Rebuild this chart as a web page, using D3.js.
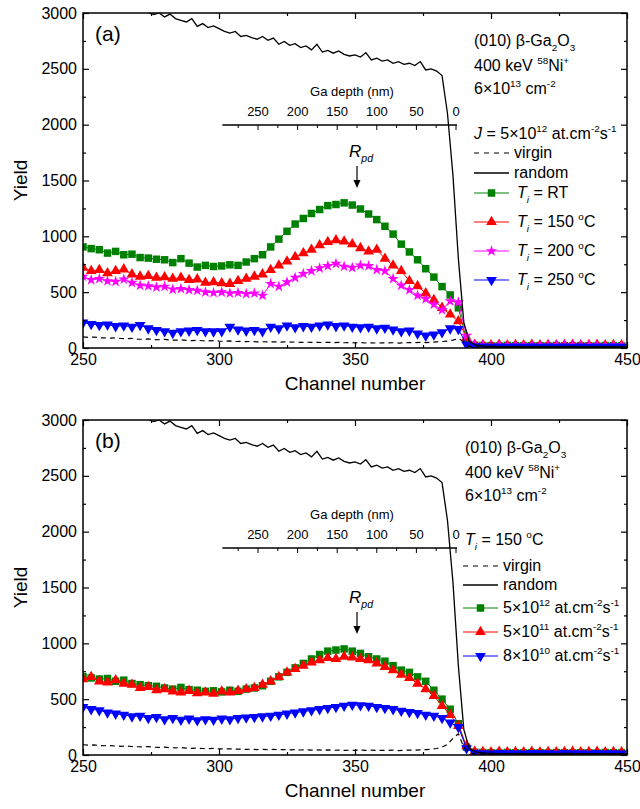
<!DOCTYPE html>
<html>
<head>
<meta charset="utf-8">
<script src="https://cdn.jsdelivr.net/npm/d3@7"></script>
<style>
body { margin: 0; background: #fff; }
svg { display: block; font-family: "Liberation Sans", Arial, sans-serif; }
</style>
</head>
<body>
<script>
// channel grid of the ion-implanted spectra (markers) and of virgin/random lines
var chan = [250,253,256,259,262,265,268,271,274,277,280,283,286,289,292,295,298,301,304,307,310,313,316,319,322,325,328,331,334,337,340,343,346,349,352,355,358,361,364,367,370,373,376,379,382,385,388,391,394,397,400,403,406,409,412,415,418,421,424,427,430,433,436,439,442,445,448];
var chanLine = [250,252,254,256,258,260,262,264,266,268,270,272,274,276,278,280,282,284,286,288,290,292,294,296,298,300,302,304,306,308,310,312,314,316,318,320,322,324,326,328,330,332,334,336,338,340,342,344,346,348,350,352,354,356,358,360,362,364,366,368,370,372,374,376,378,380,382,384,386,388,390,392,394,396,398,400,402,404,406,408,410,412,414,416,418,420,422,424,426,428,430,432,434,436,438,440,442,444,446,448,450];

// random spectrum (same in both panels)
var randomYield = [3180,3170,3155,3140,3125,3110,3095,3080,3065,3050,3035,3020,3005,2985,3000,2965,2990,2950,2935,2920,
  2950,2880,2905,2870,2885,2860,2835,2820,2835,2790,2800,2780,2765,2790,2755,2775,2720,2745,2710,2725,
  2690,2705,2670,2720,2650,2665,2640,2660,2630,2615,2625,2605,2645,2580,2595,2570,2580,2550,2565,2540,
  2550,2530,2565,2490,2500,2480,2440,2100,1550,800,230,60,30,20,16,14,
  12,13,11,12,14,12,11,13,12,12,11,13,12,14,11,12,13,12,11,12,13,12,11,12,13];
var virginA = [100,95,98,92,90,88,91,85,84,86,80,
  78,81,75,74,77,72,70,73,68,66,69,65,64,66,62,
  60,63,58,60,57,59,55,56,54,56,53,54,52,54,50,
  52,50,51,49,51,48,50,47,48,46,48,45,47,44,46,
  45,47,44,46,48,47,50,49,52,55,58,62,70,85,55,
  15,10,9,8,8,7,8,7,8,7,8,7,8,7,8,7,8,7,8,7,8,7,8,7,8,7,8,7,8,7];
var virginB = [92,88,90,85,83,84,80,78,80,76,74,
  73,75,70,68,70,66,64,66,62,60,62,58,57,59,55,
  54,56,52,53,50,52,49,50,48,50,47,48,46,48,45,
  46,44,45,43,45,42,44,41,43,42,44,41,43,40,42,
  41,43,40,42,44,43,46,48,52,58,70,95,150,190,70,
  18,10,9,8,8,7,8,7,8,7,8,7,8,7,8,7,8,7,8,7,8,7,8,7,8,7,8,7,8,7];

// panel (a): J = 5e12, different implantation temperatures
var rtA = [905,890,880,850,865,835,840,810,805, 795,790,765,800,760,725,740,730,735,
  745,740,770,800,835,905,975,1045,1110, 1160,1205,1240,1275,1285,1300,1280,1245,1200,
  1150,1090,1020,930,860,790,710,635,550, 475,360,70,25,
  22,20,18,23,20,19,21,20,18,22,20,19,21,20,18,22,20,19];
var t150A = [720,690,700,670,690,705,660,640,645, 630,635,620,630,610,615,585,590,580,
  575,600,620,640,660,700,740,775,815, 850,880,920,950,965,955,930,895,865,
  880,800,740,690,600,555,490,430,360, 300,240,90,30,
  28,25,30,24,27,26,30,24,28,25,27,29,25,27,30,24,28,26];
var t200A = [640,610,620,600,595,615,585,560,555, 545,550,525,530,520,515,500,495,500,
  490,495,485,490,470,575,550,590,630, 665,690,715,735,755,730,720,740,735,
  700,690,620,560,520,470,440,390,340, 420,410,110,30,
  25,22,27,24,26,23,27,25,22,26,24,27,23,25,26,22,25,24];
var t250A = [227,215,205,210,195,200,190,205,175, 160,150,135,150,155,160,150,148,150,
  190,165,155,160,150,190,175,200,185, 195,190,200,210,195,200,190,185,190,
  175,180,165,150,155,130,110,120,140, 175,170,30,15,
  12,10,13,11,12,10,13,11,12,10,13,11,12,10,13,11,12,10];

// panel (b): Ti = 150 C, different fluxes
var f12B = [700,690,680,685,660,670,640,630,620, 615,600,590,605,585,580,570,575,565,
  580,570,590,600,620,660,700,740,780, 820,860,900,930,940,950,930,910,880,
  860,840,800,760,740,700,660,580,500, 410,280,70,25,
  22,20,18,23,20,19,21,20,18,22,20,19,21,20,18,22,20,19];
var f11B = [680,700,660,650,670,640,630,600,610, 580,590,570,560,575,555,560,550,570,
  560,575,590,600,630,660,700,740,770, 800,830,850,870,860,880,875,860,850,
  820,790,760,720,690,640,590,530,440, 360,260,80,30,
  28,25,30,24,27,26,30,24,28,25,27,29,25,27,30,24,28,26];
var f10B = [430,410,400,380,370,360,345,350,330, 340,320,330,315,325,310,320,315,325,
  320,330,335,340,345,350,360,370,380, 390,400,410,420,430,440,450,445,440,
  430,420,410,395,385,375,360,350,330, 290,250,60,20,
  15,13,16,14,15,13,16,14,15,13,16,14,15,13,16,14,15,13];

var xTicks = [250,300,350,400,450];
var xMinor = [275,325,375,425];
var yTicks = [0,500,1000,1500,2000,2500,3000];
var yMinor = [250,750,1250,1750,2250,2750];
var depthTicks = [250,200,150,100,50,0];
var depthMinor = [275,225,175,125,75,25];

var FONT = '"Liberation Sans", Arial, sans-serif';
var svg = d3.select("body").append("svg").attr("width", 640).attr("height", 809);
var x = d3.scaleLinear().domain([250, 450]).range([83, 627]);
var depth = d3.scaleLinear().domain([0, 250]).range([456, 258]);

// text with sub/superscripts: parts = [[text, kind], ...]
function rich(sel, tx, ty, parts, size) {
  var t = sel.append("text").attr("x", tx).attr("y", ty).attr("font-size", size);
  var shift = 0;
  parts.forEach(function (p) {
    var k = p[1] || "", target = 0;
    var ts = t.append("tspan").text(p[0]);
    if (k.indexOf("sup") >= 0) { target = -0.42 * size; ts.attr("font-size", size * 0.62); }
    if (k.indexOf("sub") >= 0) { target = 0.3 * size; ts.attr("font-size", size * 0.62); }
    if (k.indexOf("it") >= 0) ts.attr("font-style", "italic");
    ts.attr("dy", target - shift);
    shift = target;
  });
  return t;
}

function marker(sel, cx, cy, s) {
  sel.append("path")
    .attr("transform", "translate(" + cx + "," + cy + ")" + (s.flip ? " rotate(180)" : ""))
    .attr("d", d3.symbol().type(s.symbol).size(s.size)())
    .attr("fill", s.color);
}

function panel(p) {
  var y = d3.scaleLinear().domain([0, 3000]).range([p.bottom, p.top]);
  var g = svg.append("g");
  g.append("clipPath").attr("id", "clip" + p.name).append("rect")
    .attr("x", 83).attr("y", p.top).attr("width", 544).attr("height", p.bottom - p.top);
  var plot = g.append("g").attr("clip-path", "url(#clip" + p.name + ")");
  var line = d3.line().x(function (d) { return x(d[0]); }).y(function (d) { return y(d[1]); });

  p.series.forEach(function (s) {
    var pts = chan.map(function (c, i) { return [c, s.values[i]]; });
    plot.append("path").datum(pts).attr("fill", "none").attr("stroke", s.color).attr("stroke-width", 1).attr("d", line);
    pts.forEach(function (d) { marker(plot, x(d[0]), y(d[1]), s); });
  });
  plot.append("path").datum(chanLine.map(function (c, i) { return [c, p.virgin[i]]; }))
    .attr("fill", "none").attr("stroke", "#000").attr("stroke-width", 1.2).attr("stroke-dasharray", "5,4").attr("d", line);
  plot.append("path").datum(chanLine.map(function (c, i) { return [c, randomYield[i]]; }))
    .attr("fill", "none").attr("stroke", "#000").attr("stroke-width", 1.3).attr("d", line);

  // axes, ticks inward on all four sides
  function ax(axis, tx, ty, vals, len, labels) {
    var a = g.append("g").attr("transform", "translate(" + tx + "," + ty + ")")
      .call(axis.tickValues(vals).tickSizeInner(-len).tickSizeOuter(0).tickPadding(6)
        .tickFormat(labels ? d3.format("d") : ""));
    a.select(".domain").remove();
    a.attr("font-size", 16).attr("font-family", FONT);
    a.selectAll("text").attr("fill", "#000");
    a.selectAll("line").attr("stroke-width", 1.2);
  }
  ax(d3.axisBottom(x), 0, p.bottom, xTicks, 6, true);
  ax(d3.axisBottom(x), 0, p.bottom, xMinor, 3, false);
  ax(d3.axisTop(x), 0, p.top, xTicks, 6, false);
  ax(d3.axisTop(x), 0, p.top, xMinor, 3, false);
  ax(d3.axisLeft(y), 83, 0, yTicks, 6, true);
  ax(d3.axisLeft(y), 83, 0, yMinor, 3, false);
  ax(d3.axisRight(y), 627, 0, yTicks, 6, false);
  ax(d3.axisRight(y), 627, 0, yMinor, 3, false);
  g.append("rect").attr("x", 83).attr("y", p.top).attr("width", 544).attr("height", p.bottom - p.top)
    .attr("fill", "none").attr("stroke", "#000").attr("stroke-width", 1.5);

  g.append("text").attr("transform", "translate(27," + (p.top + p.bottom) / 2 + ") rotate(-90)")
    .attr("text-anchor", "middle").attr("font-size", 19).text("Yield");
  g.append("text").attr("x", 355).attr("y", p.bottom + 42).attr("text-anchor", "middle")
    .attr("font-size", 19).text("Channel number");
  g.append("text").attr("x", 95).attr("y", p.top + 28).attr("font-size", 21).text(p.label);

  // Ga depth axis
  var iy = p.insetY;
  var dg = g.append("g");
  dg.append("line").attr("x1", depth(295)).attr("x2", depth(0) + 1).attr("y1", iy).attr("y2", iy)
    .attr("stroke", "#000").attr("stroke-width", 1.3);
  dg.selectAll(".maj").data(depthTicks).enter().append("line")
    .attr("x1", function (d) { return depth(d); }).attr("x2", function (d) { return depth(d); })
    .attr("y1", iy).attr("y2", iy + 5).attr("stroke", "#000");
  dg.selectAll(".min").data(depthMinor).enter().append("line")
    .attr("x1", function (d) { return depth(d); }).attr("x2", function (d) { return depth(d); })
    .attr("y1", iy).attr("y2", iy + 3).attr("stroke", "#000");
  dg.selectAll(".lab").data(depthTicks).enter().append("text")
    .attr("x", function (d) { return depth(d); }).attr("y", iy - 9).attr("text-anchor", "middle")
    .attr("font-size", 13).text(function (d) { return d; });
  dg.append("text").attr("x", 352).attr("y", iy - 29).attr("text-anchor", "middle")
    .attr("font-size", 13).text("Ga depth (nm)");

  // projected range marker
  var r = p.rpd;
  rich(g, r.x - 8, r.ty, [["R", "it"], ["pd", "itsub"]], 17);
  g.append("line").attr("x1", r.x).attr("x2", r.x).attr("y1", r.y1).attr("y2", r.y2 - 6)
    .attr("stroke", "#000").attr("stroke-width", 1.2);
  g.append("path").attr("d", "M" + (r.x - 3.5) + "," + (r.y2 - 8) + "L" + (r.x + 3.5) + "," + (r.y2 - 8) + "L" + r.x + "," + r.y2 + "Z");

  // legend
  var L = p.legend;
  L.head.forEach(function (h, i) { rich(g, L.hx, L.hy[i], h, 16); });
  var lx1 = L.lx, lx2 = L.lx + L.lw;
  g.append("line").attr("x1", lx1).attr("x2", lx2).attr("y1", L.vy).attr("y2", L.vy)
    .attr("stroke", "#000").attr("stroke-width", 1.2).attr("stroke-dasharray", "5,5");
  g.append("text").attr("x", L.tx).attr("y", L.vy + 5).attr("font-size", 16).text("virgin");
  g.append("line").attr("x1", lx1).attr("x2", lx2).attr("y1", L.ry).attr("y2", L.ry)
    .attr("stroke", "#000").attr("stroke-width", 1.3);
  g.append("text").attr("x", L.tx).attr("y", L.ry + 5).attr("font-size", 16).text("random");
  p.series.forEach(function (s, i) {
    var ly = L.sy[i];
    g.append("line").attr("x1", lx1).attr("x2", lx2).attr("y1", ly).attr("y2", ly)
      .attr("stroke", s.color).attr("stroke-width", 1);
    marker(g, (lx1 + lx2) / 2, ly, s);
    rich(g, L.stx, ly + 5, s.name, 16);
  });
}

var GREEN = "#008000", RED = "#ff0000", MAG = "#ff00ff", BLUE = "#0000ff";
var flux = function (m, e) { return [[m + "×10"], [e, "sup"], [" at.cm"], ["-2", "sup"], ["s"], ["-1", "sup"]]; };
var temp = function (t) { return t === "RT" ? [["T", "it"], ["i", "itsub"], [" = RT"]] : [["T", "it"], ["i", "itsub"], [" = " + t + " "], ["o", "sup"], ["C"]]; };
var head = [
  [["(010) β-Ga"], ["2", "sub"], ["O"], ["3", "sub"]],
  [["400 keV "], ["58", "sup"], ["Ni"], ["+", "sup"]],
  [["6×10"], ["13", "sup"], [" cm"], ["-2", "sup"]]
];

panel({
  name: "a", label: "(a)", top: 13, bottom: 348, insetY: 125, virgin: virginA,
  rpd: { x: 357, ty: 157, y1: 166, y2: 188 },
  series: [
    { values: rtA, color: GREEN, symbol: d3.symbolSquare, size: 56, name: temp("RT") },
    { values: t150A, color: RED, symbol: d3.symbolTriangle, size: 50, name: temp("150") },
    { values: t200A, color: MAG, symbol: d3.symbolStar, size: 40, name: temp("200") },
    { values: t250A, color: BLUE, symbol: d3.symbolTriangle, size: 50, flip: true, name: temp("250") }
  ],
  legend: {
    hx: 474, hy: [46, 71, 94, 139],
    head: head.concat([[["J", "it"], [" = 5×10"], ["12", "sup"], [" at.cm"], ["-2", "sup"], ["s"], ["-1", "sup"]]]),
    lx: 474, lw: 35, tx: 514, stx: 517, vy: 153, ry: 173, sy: [193, 222, 251, 280]
  }
});
panel({
  name: "b", label: "(b)", top: 420, bottom: 755, insetY: 548, virgin: virginB,
  rpd: { x: 357, ty: 603, y1: 612, y2: 634 },
  series: [
    { values: f12B, color: GREEN, symbol: d3.symbolSquare, size: 56, name: flux("5", "12") },
    { values: f11B, color: RED, symbol: d3.symbolTriangle, size: 50, name: flux("5", "11") },
    { values: f10B, color: BLUE, symbol: d3.symbolTriangle, size: 50, flip: true, name: flux("8", "10") }
  ],
  legend: {
    hx: 465, hy: [453, 478, 501, 545],
    head: head.concat([temp("150")]),
    lx: 463, lw: 35, tx: 503, stx: 503, vy: 566, ry: 585, sy: [608, 632, 656]
  }
});
</script>
</body>
</html>
